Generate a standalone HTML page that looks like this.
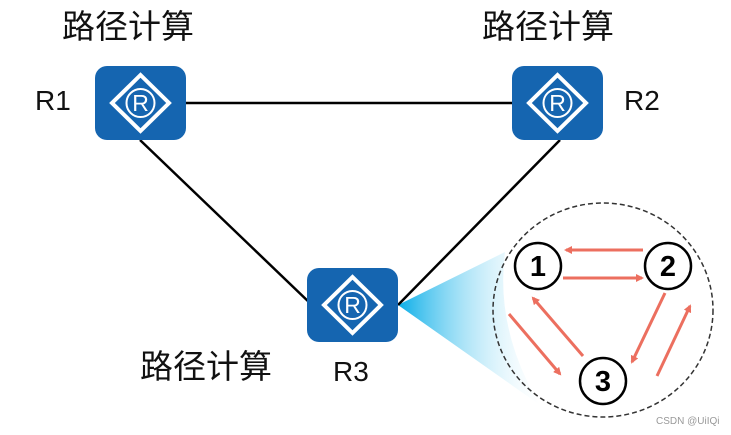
<!DOCTYPE html>
<html><head><meta charset="utf-8"><style>
html,body{margin:0;padding:0;background:#fff;}
svg{display:block;}
text{font-family:"Liberation Sans","Noto Sans CJK SC",sans-serif;}
</style></head><body>
<svg width="731" height="435" viewBox="0 0 731 435" xmlns="http://www.w3.org/2000/svg">
<defs>
<linearGradient id="g" x1="0" y1="0" x2="1" y2="0">
<stop offset="0" stop-color="#0aaee8"/>
<stop offset="1" stop-color="#ffffff" stop-opacity="0.2"/>
</linearGradient>
<marker id="a" markerWidth="8" markerHeight="8" refX="6" refY="4" orient="auto" markerUnits="userSpaceOnUse">
<path d="M0,0 L8,4 L0,8 z" fill="#ec6f5f"/>
</marker>
<g id="r">
<rect x="0" y="0" width="91" height="74" rx="12" fill="#1565b0"/>
<path d="M45.5,9 L74,37 L45.5,65 L17,37 Z" fill="none" stroke="#fff" stroke-width="4"/>
<circle cx="45.5" cy="37" r="14" fill="none" stroke="#fff" stroke-width="2"/>
<text x="45.5" y="45" font-size="23" fill="#fff" text-anchor="middle">R</text>
</g>
</defs>
<path d="M398,305 L505,252 Q495,330 540,405 Z" fill="url(#g)"/>
<g stroke="#000" stroke-width="2.5">
<line x1="186" y1="103" x2="513" y2="103"/>
<line x1="140" y1="140" x2="312" y2="305"/>
<line x1="560" y1="140" x2="398" y2="305"/>
</g>
<use href="#r" x="95" y="66"/>
<use href="#r" x="512" y="66"/>
<use href="#r" x="307" y="268"/>
<ellipse cx="603" cy="310" rx="110" ry="107" fill="none" stroke="#333" stroke-width="1.5" stroke-dasharray="5,3"/>
<g stroke="#ec6f5f" stroke-width="3" marker-end="url(#a)">
<line x1="643" y1="250" x2="566" y2="250"/>
<line x1="563" y1="278" x2="642" y2="278"/>
<line x1="583" y1="356" x2="533" y2="298"/>
<line x1="509" y1="314" x2="560" y2="374"/>
<line x1="665" y1="293" x2="632" y2="362"/>
<line x1="657" y1="376" x2="690" y2="306"/>
</g>
<g fill="#fff" stroke="#000" stroke-width="2.5">
<circle cx="538" cy="266" r="23"/>
<circle cx="668" cy="266" r="23"/>
<circle cx="603" cy="381" r="23"/>
</g>
<g font-size="29" font-weight="bold" text-anchor="middle" fill="#000">
<text x="538" y="276">1</text>
<text x="668" y="276">2</text>
<text x="603" y="391">3</text>
</g>
<g font-size="33" fill="#111">
<text x="62" y="38">路径计算</text>
<text x="482" y="38">路径计算</text>
<text x="140" y="378">路径计算</text>
</g>
<g font-size="28" fill="#111">
<text x="35" y="110">R1</text>
<text x="624" y="110">R2</text>
<text x="333" y="381">R3</text>
</g>
<text x="656" y="424" font-size="10" fill="#999">CSDN @UiIQi</text>
</svg>
</body></html>
